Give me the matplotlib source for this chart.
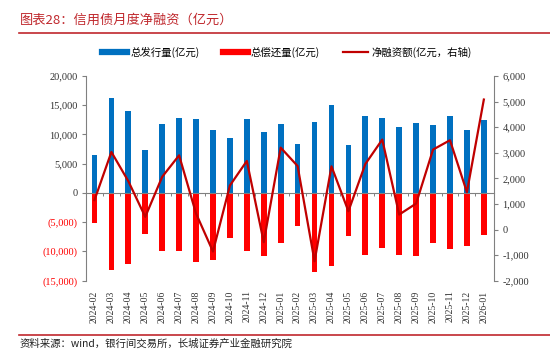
import numpy as np
import matplotlib
matplotlib.use("Agg")
import matplotlib.pyplot as plt
from matplotlib.lines import Line2D

plt.rcParams['font.family'] = ['Noto Sans CJK SC', 'DejaVu Sans']

months = ["2024-02", "2024-03", "2024-04", "2024-05", "2024-06", "2024-07",
          "2024-08", "2024-09", "2024-10", "2024-11", "2024-12", "2025-01",
          "2025-02", "2025-03", "2025-04", "2025-05", "2025-06", "2025-07",
          "2025-08", "2025-09", "2025-10", "2025-11", "2025-12", "2026-01"]
issuance = [6500, 16200, 14100, 7400, 11850, 12900, 12600, 10700, 9350, 12600,
            10400, 11850, 8300, 12200, 15000, 8150, 13100, 12900, 11200, 11900,
            11700, 13100, 10700, 12400]
repayment = [-5200, -13100, -12200, -6950, -9900, -10000, -11850, -11500, -7750,
             -9900, -10800, -8600, -5700, -13450, -12500, -7350, -10550, -9350,
             -10650, -10800, -8550, -9600, -9150, -7200]
net_financing = [1150, 3030, 1890, 495, 2060, 2900, 625, -860, 1720, 2680, -495,
                 3200, 2480, -1240, 2470, 715, 2560, 3515, 585, 1015, 3125, 3490,
                 1460, 5080]
left_ticks = [20000, 15000, 10000, 5000, 0, -5000, -10000, -15000]
right_ticks = [6000, 5000, 4000, 3000, 2000, 1000, 0, -1000, -2000]

title = "图表28：信用债月度净融资（亿元）"
source = "资料来源：wind，银行间交易所，长城证券产业金融研究院"
labels = ["总发行量(亿元)", "总偿还量(亿元)", "净融资额(亿元，右轴)"]

BLUE = "#0070C0"
RED = "#FF0000"
DARKRED = "#C00000"
TITLE_RED = "#C0282D"
GRAY = "#808080"
SERIF = ['Liberation Serif', 'Noto Sans CJK SC']

fig = plt.figure(figsize=(5.5, 3.59), dpi=100)
ax = fig.add_axes([86/550, 1-280.7/359, (494-86)/550, (280.7-76)/359])
x = np.arange(len(months))
ax.bar(x, issuance, width=0.34, color=BLUE, zorder=2)
ax.bar(x, repayment, width=0.34, color=RED, zorder=2)
ax.set_xlim(-0.5, 23.6)
ax.set_ylim(-15000, 20000)
ax.set_yticks(left_ticks)
def fmt_left(v):
    if v < 0:
        return "({:,})".format(-v)
    return "{:,}".format(v)
ax.set_yticklabels([fmt_left(v) for v in left_ticks], fontfamily=SERIF, fontsize=7.5)
for lab, v in zip(ax.get_yticklabels(), left_ticks):
    lab.set_color(RED if v < 0 else "#333333")
ax.tick_params(axis='y', direction='out', length=3, color=GRAY, pad=3)
ax.set_xticks(x)
ax.set_xticklabels(months, rotation=90, fontfamily=SERIF, fontsize=7, color="#333333")
ax.tick_params(axis='x', length=0, pad=7)
for s in ['top', 'right', 'bottom']:
    ax.spines[s].set_visible(False)
ax.spines['left'].set_color(GRAY)
ax.spines['left'].set_linewidth(0.8)
ax.patch.set_visible(False)

# zero axis with category boundary ticks
zero_pos = 15000 / 35000
sec = ax.secondary_xaxis(zero_pos)
sec.set_xticks(np.arange(0.5, len(months) - 1, 1.0))
sec.set_xticklabels([])
sec.tick_params(axis='x', direction='out', length=2.5, color=GRAY, width=0.7)
sec.spines['bottom'].set_color(GRAY)
sec.spines['bottom'].set_linewidth(0.8)
sec.set_zorder(3)

ax2 = ax.twinx()
ax2.plot(x, net_financing, color=DARKRED, lw=1.6, zorder=4)
ax2.set_ylim(-2000, 6000)
ax2.set_yticks(right_ticks)
ax2.set_yticklabels(["{:,}".format(v) for v in right_ticks], fontfamily=SERIF,
                    fontsize=7.5, color="#333333")
ax2.tick_params(axis='y', direction='out', length=3, color=GRAY, pad=3)
for s in ['top', 'left', 'bottom']:
    ax2.spines[s].set_visible(False)
ax2.spines['right'].set_color(GRAY)
ax2.spines['right'].set_linewidth(0.8)

handles = [Line2D([], [], color=BLUE, lw=4.5),
           Line2D([], [], color=RED, lw=4.5),
           Line2D([], [], color=DARKRED, lw=1.6)]
fig.legend(handles, labels, loc='center', bbox_to_anchor=(287/550, 1-52/359),
           ncol=3, frameon=False, fontsize=7.5, handlelength=2.4,
           columnspacing=2.2, handletextpad=0.3)

fig.text(20/550, 1-20/359, title, color=TITLE_RED, fontsize=9.5, style='italic',
         ha='left', va='center')
fig.add_artist(Line2D([19/550, 1.0], [1-33/359, 1-33/359], color=TITLE_RED, lw=1.2))
fig.add_artist(Line2D([19/550, 1.0], [1-335/359, 1-335/359], color=TITLE_RED, lw=1.2))
fig.text(20/550, 1-344/359, source, color="#222222", fontsize=7.5, style='italic',
         ha='left', va='center')

fig.savefig("out.png", dpi=100)
